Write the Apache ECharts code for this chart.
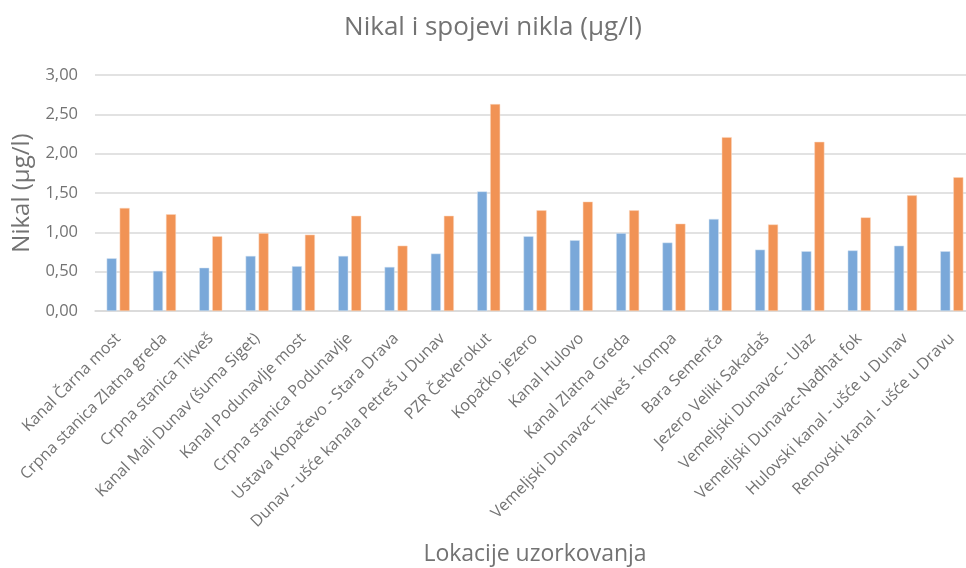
<!DOCTYPE html>
<html>
<head>
<meta charset="utf-8">
<script src="https://cdn.jsdelivr.net/npm/echarts@6/dist/echarts.min.js"></script>
<style>
  html, body { margin: 0; padding: 0; background: #fff; }
  #chart { width: 966px; height: 568px; }
</style>
</head>
<body>
<div id="chart"></div>
<script>
// lokacije
var categories = [
  'Kanal Čarna most', 'Crpna stanica Zlatna greda', 'Crpna stanica Tikveš',
  'Kanal Mali Dunav (šuma Siget)', 'Kanal Podunavlje most', 'Crpna stanica Podunavlje',
  'Ustava Kopačevo - Stara Drava', 'Dunav - ušće kanala Petreš u Dunav', 'PZR Četverokut',
  'Kopačko jezero', 'Kanal Hulovo', 'Kanal Zlatna Greda', 'Vemeljski Dunavac Tikveš - kompa',
  'Bara Semenča', 'Jezero Veliki Sakadaš', 'Vemeljski Dunavac - Ulaz',
  'Vemeljski Dunavac-Nađhat fok', 'Hulovski kanal - ušće u Dunav', 'Renovski kanal - ušće u Dravu'
];
var seriesA = [0.67, 0.51, 0.55, 0.70, 0.57, 0.70, 0.56, 0.73, 1.52, 0.95, 0.90, 0.99, 0.87, 1.17, 0.78, 0.76, 0.77, 0.83, 0.76];
var seriesB = [1.31, 1.23, 0.95, 0.99, 0.97, 1.21, 0.83, 1.21, 2.63, 1.28, 1.39, 1.28, 1.11, 2.21, 1.10, 2.15, 1.19, 1.47, 1.70];

var textGray = '#737373';

var chart = echarts.init(document.getElementById('chart'));
chart.setOption({
  animation: false,
  textStyle: { fontFamily: 'Open Sans' },
  title: {
    text: 'Nikal i spojevi nikla (µg/l)',
    left: 488,
    top: 10,
    textAlign: 'center',
    textStyle: { fontSize: 26, fontWeight: 'normal', color: textGray, fontFamily: 'Open Sans' }
  },
  grid: { left: 95, width: 880, top: 75, height: 236, outerBoundsMode: 'none' },
  xAxis: {
    type: 'category',
    data: categories,
    name: 'Lokacije uzorkovanja',
    nameLocation: 'middle',
    nameGap: 232,
    nameTextStyle: { fontSize: 23, color: textGray },
    axisLine: { lineStyle: { color: '#d9d9d9', width: 1.5 } },
    axisTick: { show: false },
    axisLabel: { interval: 0, rotate: 45, fontSize: 16, color: textGray, margin: 25 }
  },
  yAxis: {
    type: 'value',
    min: 0,
    max: 3,
    interval: 0.5,
    name: 'Nikal (µg/l)',
    nameLocation: 'middle',
    nameGap: 60,
    nameTextStyle: { fontSize: 24, color: textGray },
    axisLine: { show: false },
    axisTick: { show: false },
    splitLine: { lineStyle: { color: '#d9d9d9', width: 1.5 } },
    axisLabel: {
      fontSize: 16.5, color: textGray, margin: 17,
      formatter: function (v) { return v.toFixed(2).replace('.', ','); }
    }
  },
  series: [
    {
      name: 'Serija 1', type: 'bar', data: seriesA, barWidth: 10, barGap: '30%',
      itemStyle: { color: '#7aa8d9', borderColor: '#d6e4f3', borderWidth: 0.5 }
    },
    {
      name: 'Serija 2', type: 'bar', data: seriesB, barWidth: 10,
      itemStyle: { color: '#f19355', borderColor: '#fbd7bf', borderWidth: 0.5 }
    }
  ]
});
</script>
</body>
</html>
